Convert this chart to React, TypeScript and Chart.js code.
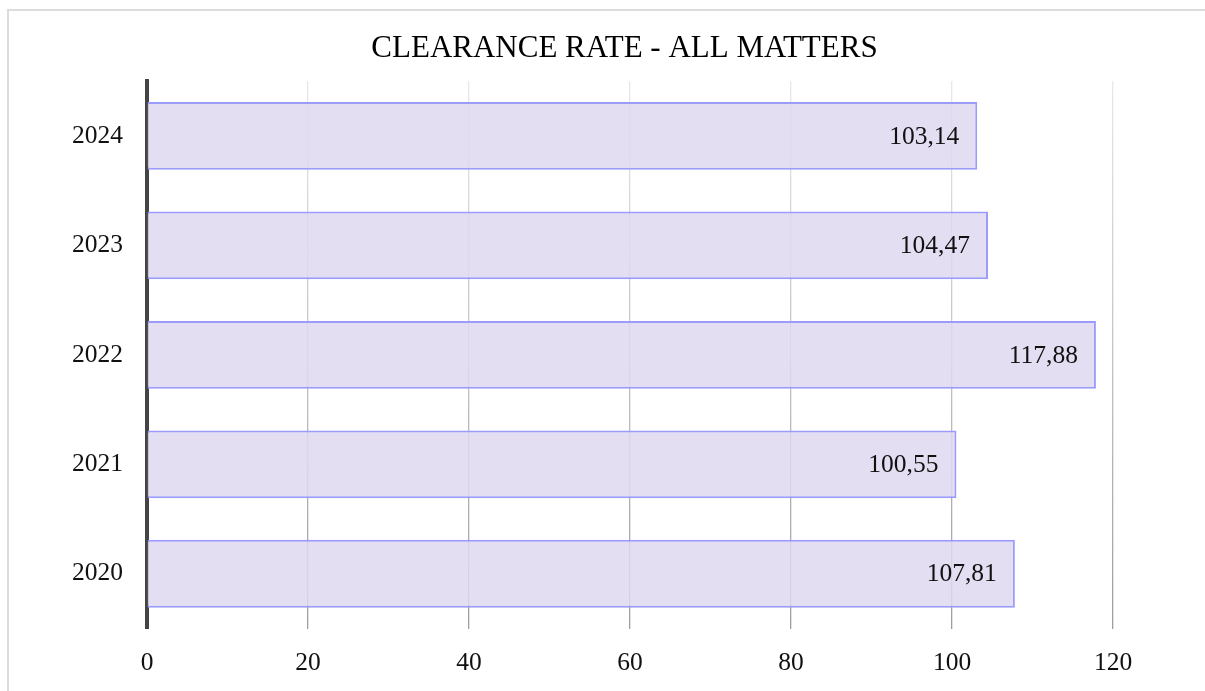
import React, { useEffect, useRef } from "react";
import { Chart, registerables } from "chart.js";

Chart.register(...registerables);

const titleText = "CLEARANCE RATE - ALL MATTERS";
const years = ["2024", "2023", "2022", "2021", "2020"];
const clearanceRates = [103.14, 104.47, 117.88, 100.55, 107.81];
const xTickMin = 0;
const xTickMax = 120;
const xTickStep = 20;

const FONT = "'Liberation Serif', 'Times New Roman', Times, serif";
const CANVAS_W = 1196;
const CANVAS_H = 680;

const valueLabelPlugin = {
  id: "valueLabels",
  afterDatasetsDraw(chart: any) {
    const ctx = chart.ctx;
    const meta = chart.getDatasetMeta(0);
    const data = chart.data.datasets[0].data as number[];
    ctx.save();
    ctx.font = `25.5px ${FONT}`;
    ctx.fillStyle = "#111";
    ctx.textAlign = "right";
    ctx.textBaseline = "middle";
    meta.data.forEach((bar: any, i: number) => {
      const label = data[i].toFixed(2).replace(".", ",");
      ctx.fillText(label, bar.x - 18, bar.y + 1);
    });
    ctx.restore();
  },
};

export default function App() {
  const canvasRef = useRef<HTMLCanvasElement | null>(null);

  useEffect(() => {
    const canvas = canvasRef.current;
    if (!canvas) return;
    const chart = new Chart(canvas, {
      type: "bar",
      data: {
        labels: years,
        datasets: [
          {
            data: clearanceRates,
            backgroundColor: "rgba(224, 217, 241, 0.86)",
            borderColor: "rgb(155, 155, 252)",
            borderWidth: 2,
            borderSkipped: "start",
            categoryPercentage: 0.8,
            barPercentage: 0.775,
          },
        ],
      },
      plugins: [valueLabelPlugin],
      options: {
        indexAxis: "y",
        animation: false,
        responsive: false,
        devicePixelRatio: 1,
        layout: { padding: { left: 35, right: 0, top: 0, bottom: 0 } },
        plugins: {
          legend: { display: false },
          tooltip: { enabled: false },
          title: {
            display: true,
            text: titleText,
            color: "#000",
            font: { family: FONT, size: 31, weight: "normal", lineHeight: 1.2 },
            padding: { top: 19, bottom: 14 },
          },
        },
        scales: {
          x: {
            type: "linear",
            min: xTickMin,
            max: xTickMax,
            ticks: {
              stepSize: xTickStep,
              color: "#111",
              padding: 19,
              font: { family: FONT, size: 25.5 },
            },
            grid: {
              drawTicks: false,
              lineWidth: 1.3,
              color: (c: any) => {
                const ch = c.chart;
                const area = ch.chartArea;
                if (!area) return "#cccccc";
                const g = ch.ctx.createLinearGradient(0, area.top, 0, area.bottom);
                g.addColorStop(0, "#e8e8e8");
                g.addColorStop(1, "#9e9e9e");
                return g;
              },
            },
            border: { display: false },
            afterFit: (scale: any) => {
              scale.height = 62.5;
            },
          },
          y: {
            ticks: {
              color: "#111",
              padding: 24,
              font: { family: FONT, size: 25.5 },
            },
            grid: { display: false, drawTicks: false },
            border: { display: true, color: "#444", width: 4 },
            afterFit: (scale: any) => {
              scale.width = 103;
            },
          },
          ySpacer: {
            type: "category",
            position: "right",
            display: true,
            ticks: { display: false },
            grid: { display: false, drawTicks: false },
            border: { display: false },
            afterFit: (scale: any) => {
              scale.width = 92;
            },
          },
        },
      },
    });
    return () => chart.destroy();
  }, []);

  return (
    <div
      style={{
        position: "fixed",
        left: 7,
        top: 9,
        borderTop: "2px solid #dcdcdc",
        borderLeft: "2px solid #dcdcdc",
        width: CANVAS_W,
        height: CANVAS_H,
        background: "#fff",
        overflow: "hidden",
      }}
    >
      <canvas
        ref={canvasRef}
        width={CANVAS_W}
        height={CANVAS_H}
        style={{ display: "block", width: CANVAS_W, height: CANVAS_H }}
      />
    </div>
  );
}
